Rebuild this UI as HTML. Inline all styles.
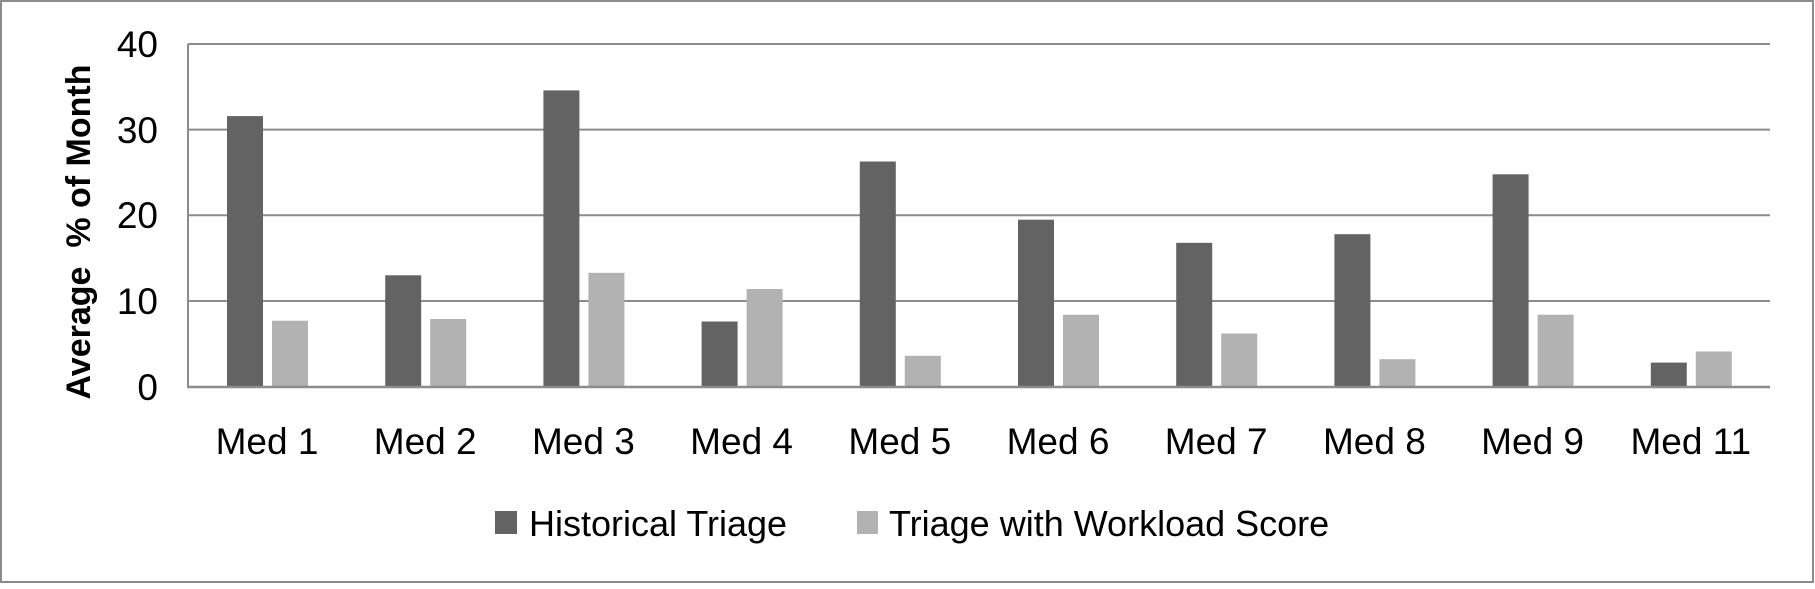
<!DOCTYPE html>
<html><head><style>
body{margin:0;background:#fff}
svg text{font-family:"Liberation Sans",sans-serif;fill:#000}
</style></head><body>
<svg width="1815" height="584" xmlns="http://www.w3.org/2000/svg">
<rect x="1" y="1" width="1812" height="581" fill="#fff" stroke="#8c8c8c" stroke-width="2"/>
<g stroke="#8c8c8c" stroke-width="2">
<line x1="188" y1="44" x2="1770" y2="44"/>
<line x1="188" y1="129.6" x2="1770" y2="129.6"/>
<line x1="188" y1="215.3" x2="1770" y2="215.3"/>
<line x1="188" y1="301" x2="1770" y2="301"/>
<line x1="188" y1="44" x2="188" y2="387"/>
</g>
<g fill="#636363">
<rect x="227" y="116.1" width="36" height="270.5"/>
<rect x="385.2" y="275.3" width="36" height="111.3"/>
<rect x="543.4" y="90.4" width="36" height="296.2"/>
<rect x="701.6" y="321.5" width="36" height="65.1"/>
<rect x="859.8" y="161.5" width="36" height="225.1"/>
<rect x="1018" y="219.7" width="36" height="166.9"/>
<rect x="1176.2" y="242.8" width="36" height="143.8"/>
<rect x="1334.4" y="234.2" width="36" height="152.4"/>
<rect x="1492.6" y="174.3" width="36" height="212.3"/>
<rect x="1650.8" y="362.6" width="36" height="24"/>
</g>
<g fill="#b2b2b2">
<rect x="272" y="320.7" width="36" height="65.9"/>
<rect x="430.2" y="319" width="36" height="67.6"/>
<rect x="588.4" y="272.8" width="36" height="113.8"/>
<rect x="746.6" y="289" width="36" height="97.6"/>
<rect x="904.8" y="355.8" width="36" height="30.8"/>
<rect x="1063" y="314.7" width="36" height="71.9"/>
<rect x="1221.2" y="333.5" width="36" height="53.1"/>
<rect x="1379.4" y="359.2" width="36" height="27.4"/>
<rect x="1537.6" y="314.7" width="36" height="71.9"/>
<rect x="1695.8" y="351.5" width="36" height="35.1"/>
</g>
<line x1="187" y1="387" x2="1770" y2="387" stroke="#8c8c8c" stroke-width="2.5"/>
<g font-size="37" text-anchor="end">
<text x="158" y="57">40</text><text x="158" y="143">30</text><text x="158" y="228">20</text><text x="158" y="314">10</text><text x="158" y="400">0</text>
</g>
<text transform="translate(90,232) rotate(-90)" font-size="34" font-weight="bold" text-anchor="middle">Average&#160; % of Month</text>
<g font-size="37" text-anchor="middle">
<text x="267" y="454">Med 1</text>
<text x="425.2" y="454">Med 2</text>
<text x="583.4" y="454">Med 3</text>
<text x="741.6" y="454">Med 4</text>
<text x="899.8" y="454">Med 5</text>
<text x="1058" y="454">Med 6</text>
<text x="1216.2" y="454">Med 7</text>
<text x="1374.4" y="454">Med 8</text>
<text x="1532.6" y="454">Med 9</text>
<text x="1690.8" y="454">Med 11</text>
</g>
<rect x="495" y="511" width="22" height="23" fill="#636363"/>
<text x="529" y="536" font-size="36">Historical Triage</text>
<rect x="857" y="511" width="21" height="23" fill="#b2b2b2"/>
<text x="889" y="536" font-size="36">Triage with Workload Score</text>
</svg>
</body></html>
